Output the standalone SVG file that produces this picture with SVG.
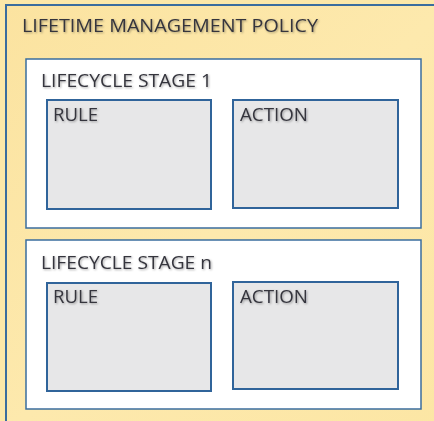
<svg xmlns="http://www.w3.org/2000/svg" width="434" height="421" viewBox="0 0 434 421">
<defs>
<linearGradient id="yel" x1="0" y1="0" x2="1" y2="1">
<stop offset="0" stop-color="#fbe3a0"/>
<stop offset="0.5" stop-color="#fde9ad"/>
<stop offset="1" stop-color="#fce6a4"/>
</linearGradient>
<filter id="ts" x="-5%" y="-20%" width="110%" height="140%">
<feGaussianBlur in="SourceAlpha" stdDeviation="0.8"/>
<feOffset dx="0.5" dy="0.8" result="b"/>
<feFlood flood-color="#000" flood-opacity="0.35"/>
<feComposite in2="b" operator="in"/>
<feMerge><feMergeNode/><feMergeNode in="SourceGraphic"/></feMerge>
</filter>
</defs>
<style>
.stage{fill:#ffffff;stroke:#3a6d9e;stroke-width:1.5}
.box{fill:#e7e7e8;stroke:#30649a;stroke-width:2}
.t{font-family:"Open Sans","Liberation Sans",sans-serif;fill:#36363e;font-size:18.5px;filter:url(#ts)}
.title{font-size:19px}
</style>
<rect width="434" height="421" fill="#fce8a8"/>
<g id="policy">
<rect x="6" y="5" width="440" height="430" fill="url(#yel)" stroke="#3a6d9e" stroke-width="2"/>
<text class="t title" x="22" y="32" textLength="296" lengthAdjust="spacingAndGlyphs">LIFETIME MANAGEMENT POLICY</text>
</g>
<g id="stage1">
<rect class="stage" x="26" y="59" width="395" height="169"/>
<text class="t" x="41" y="87" textLength="171" lengthAdjust="spacingAndGlyphs">LIFECYCLE STAGE 1</text>
</g>
<g id="rule1">
<rect class="box" x="47" y="100" width="164" height="109"/>
<text class="t" x="53" y="121" textLength="45" lengthAdjust="spacingAndGlyphs">RULE</text>
</g>
<g id="action1">
<rect class="box" x="233" y="100" width="165" height="108"/>
<text class="t" x="240" y="121" textLength="68" lengthAdjust="spacingAndGlyphs">ACTION</text>
</g>
<g id="stagen">
<rect class="stage" x="26" y="240" width="395" height="169"/>
<text class="t" x="41" y="269" textLength="171" lengthAdjust="spacingAndGlyphs">LIFECYCLE STAGE n</text>
</g>
<g id="rulen">
<rect class="box" x="47" y="283" width="164" height="108"/>
<text class="t" x="53" y="303" textLength="45" lengthAdjust="spacingAndGlyphs">RULE</text>
</g>
<g id="actionn">
<rect class="box" x="233" y="282" width="165" height="107"/>
<text class="t" x="240" y="303" textLength="68" lengthAdjust="spacingAndGlyphs">ACTION</text>
</g>
<g id="connectors"/>
</svg>
